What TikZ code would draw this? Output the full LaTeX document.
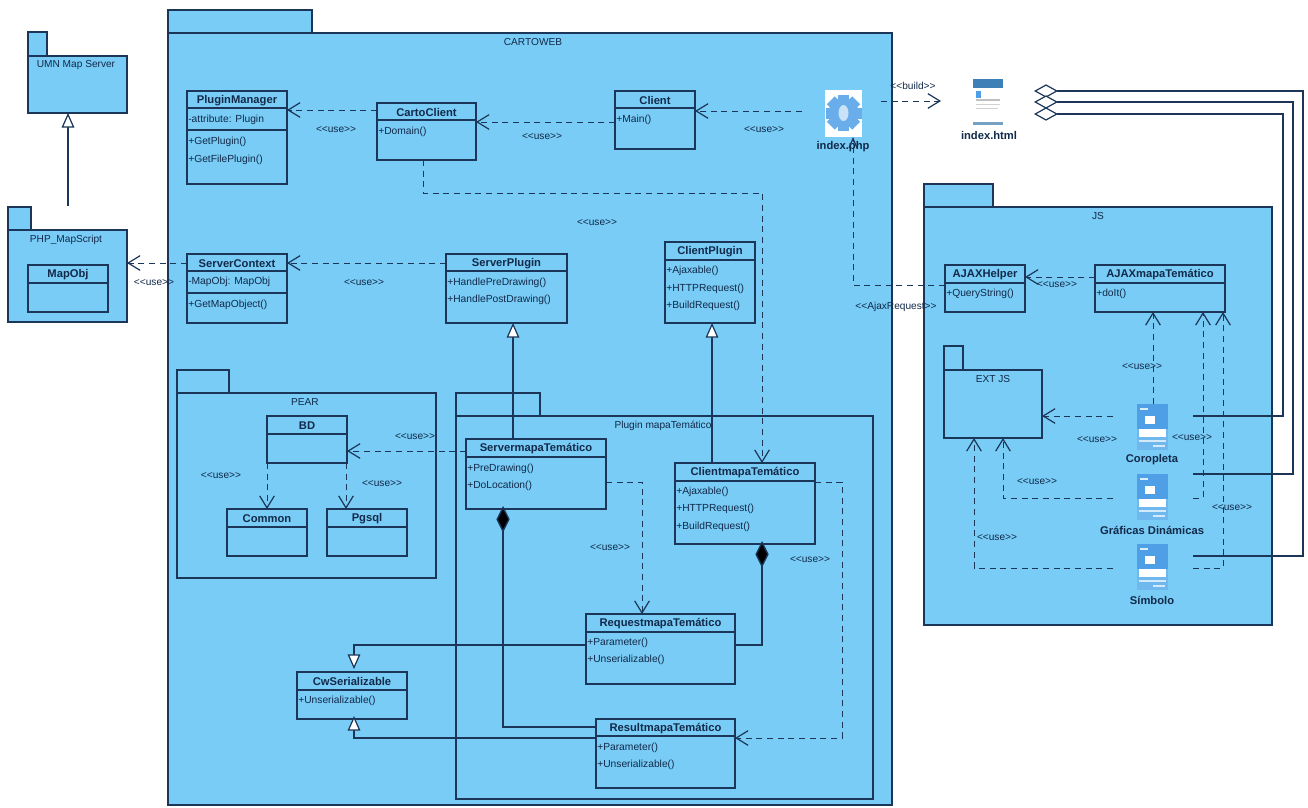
\documentclass[tikz,border=0pt]{standalone}
\usepackage{fontspec}
\setmainfont{Liberation Sans}
\usetikzlibrary{arrows.meta,calc}
\definecolor{pkgblue}{HTML}{78CCF5}
\definecolor{ink}{HTML}{1B3658}
\definecolor{txt}{HTML}{12294A}
\definecolor{iconblue}{HTML}{4F9FE6}
\definecolor{iconlight}{HTML}{6FB8EE}
\tikzset{
  umlbox/.style={draw=ink,line width=1pt,anchor=north west,inner sep=0pt,outer sep=0pt},
  pkgbox/.style={umlbox,fill=pkgblue},
  classtitle/.style={inner sep=0pt,text=txt,font=\fontsize{8.4}{10}\selectfont\bfseries},
  member/.style={anchor=west,inner sep=0pt,text=txt,font=\fontsize{7.7}{9}\selectfont},
  lbl/.style={inner sep=0pt,text=txt,font=\fontsize{7.6}{9}\selectfont},
  iconlbl/.style={inner sep=0pt,text=txt,font=\fontsize{8.4}{10}\selectfont\bfseries},
  iconbox/.style={anchor=north west,inner sep=0pt,outer sep=0pt},
  solidln/.style={draw=ink,line width=1pt},
  dashln/.style={draw=ink,line width=.75pt,dash pattern=on 4.5pt off 3.5pt},
  openhead/.style={-{Straight Barb[length=9pt,width=11pt,line width=.9pt]}},
  genhead/.style={-{Triangle[length=11pt,width=9.5pt,fill=white,line width=.9pt]}},
  comphead/.style={{Diamond[length=20pt,width=10pt,fill=black]}-},
  agghead/.style={{Diamond[length=18pt,width=10pt,fill=white,line width=.9pt]}-},
}
\newcounter{lblc}
\newcommand{\umlclass}[6]{%
  \node[umlbox,minimum width={(#4-#2)*0.75pt},minimum height={(#5-#3)*0.75pt}] (#1) at (#2,#3) {};
  \node[classtitle] (#1T) at ({(#2+#4)/2},{#3+9.5}) {#6};
}
\newcommand{\umldiv}[2]{\draw[solidln] (#1.west |- 0,#2) -- (#1.east |- 0,#2);}
\newcommand{\mbr}[3]{\stepcounter{lblc}\node[member] (m\thelblc) at ($(#1.west |- 0,#2)+(1,0)$) {#3};}
\newcommand{\lab}[3]{\stepcounter{lblc}\node[lbl] (l\thelblc) at (#1,#2) {#3};}
\newcommand{\usetag}[2]{\lab{#1}{#2}{<{}<use>{}>}}
\newcommand{\umlpkg}[7]{% name x1 tabtop tabright bodytop x2 bottom
  \node[pkgbox,minimum width={(#4-#2)*0.75pt},minimum height={(#5-#3)*0.75pt}] (#1Tab) at (#2,#3) {};
  \node[pkgbox,minimum width={(#6-#2)*0.75pt},minimum height={(#7-#5)*0.75pt}] (#1) at (#2,#5) {};
}
\newcommand{\formicon}[2]{% left, top
  \fill[iconlight] (#1,#2) rectangle ++(31,46);
  \fill[iconblue] (#1,#2) rectangle ++(31,25);
  \fill[white] (#1+8,#2+12) rectangle ++(10,8);
  \fill[white] (#1+2,#2+25) rectangle ++(27,8);
  \fill[white,opacity=.8] (#1+3,#2+4) rectangle ++(8,1.5);
  \fill[white,opacity=.7] (#1+2,#2+36) rectangle ++(27,2);
  \fill[white,opacity=.7] (#1+16,#2+41) rectangle ++(12,1.5);
}
\begin{document}
\begin{tikzpicture}[x=0.75pt,y=-0.75pt]
\useasboundingbox (0,0) rectangle (1308,807);
\fill[white] (0,0) rectangle (1308,807);

% packages
\umlpkg{umn}{28}{32}{47}{56}{127}{113}
\lab{76}{65}{UMN Map Server}
\umlpkg{php}{8}{207}{31}{230}{127}{322}
\lab{66}{240}{PHP\_MapScript}
\umlpkg{carto}{168}{10}{312}{33}{892}{805}
\lab{533}{42}{CARTOWEB}
\umlpkg{pear}{177}{370}{229}{393}{436}{578}
\lab{305}{402}{PEAR}
\umlpkg{plug}{456}{393}{540}{416}{873}{799}
\lab{663}{426}{Plugin mapaTemático}
\umlpkg{js}{924}{184}{993}{207}{1272}{625}
\lab{1098}{216}{JS}
\umlpkg{ext}{944}{346}{963}{370}{1042}{438}
\lab{993}{379}{EXT JS}

% classes
\umlclass{mapobj}{28}{265}{108}{312}{MapObj}
\umldiv{mapobj}{283}
\umlclass{pm}{187}{91}{287}{184}{PluginManager}
\umldiv{pm}{108}\umldiv{pm}{130}
\mbr{pm}{120}{-attribute: Plugin}\mbr{pm}{142}{+GetPlugin()}\mbr{pm}{160}{+GetFilePlugin()}
\umlclass{cc}{377}{103}{476}{160}{CartoClient}
\umldiv{cc}{120}
\mbr{cc}{132}{+Domain()}
\umlclass{cl}{615}{91}{695}{149}{Client}
\umldiv{cl}{108}
\mbr{cl}{120}{+Main()}
\umlclass{sc}{187}{254}{287}{323}{ServerContext}
\umldiv{sc}{271}\umldiv{sc}{293}
\mbr{sc}{282}{-MapObj: MapObj}\mbr{sc}{305}{+GetMapObject()}
\umlclass{sp}{446}{254}{567}{323}{ServerPlugin}
\umldiv{sp}{271}
\mbr{sp}{283}{+HandlePreDrawing()}\mbr{sp}{300}{+HandlePostDrawing()}
\umlclass{cp}{665}{242}{755}{323}{ClientPlugin}
\umldiv{cp}{260}
\mbr{cp}{271}{+Ajaxable()}\mbr{cp}{288.5}{+HTTPRequest()}\mbr{cp}{306}{+BuildRequest()}
\umlclass{bd}{267}{416}{347}{463}{BD}
\umldiv{bd}{434}
\umlclass{com}{227}{509}{307}{556}{Common}
\umldiv{com}{527}
\umlclass{pg}{327}{509}{407}{556}{Pgsql}
\umldiv{pg}{527}
\umlclass{smt}{466}{439}{606}{509}{ServermapaTemático}
\umldiv{smt}{457}
\mbr{smt}{469}{+PreDrawing()}\mbr{smt}{486}{+DoLocation()}
\umlclass{cmt}{675}{463}{815}{544}{ClientmapaTemático}
\umldiv{cmt}{481}
\mbr{cmt}{492}{+Ajaxable()}\mbr{cmt}{509}{+HTTPRequest()}\mbr{cmt}{527}{+BuildRequest()}
\umlclass{req}{586}{614}{735}{684}{RequestmapaTemático}
\umldiv{req}{632}
\mbr{req}{643}{+Parameter()}\mbr{req}{660}{+Unserializable()}
\umlclass{res}{596}{719}{735}{788}{ResultmapaTemático}
\umldiv{res}{736}
\mbr{res}{748}{+Parameter()}\mbr{res}{765}{+Unserializable()}
\umlclass{cw}{297}{672}{407}{719}{CwSerializable}
\umldiv{cw}{690}
\mbr{cw}{701}{+Unserializable()}
\umlclass{ah}{945}{265}{1025}{312}{AJAXHelper}
\umldiv{ah}{283}
\mbr{ah}{294}{+QueryString()}
\umlclass{am}{1095}{265}{1225}{312}{AJAXmapaTemático}
\umldiv{am}{283}
\mbr{am}{294}{+doIt()}

% index.php icon
\node[iconbox,minimum width={79*0.75pt},minimum height={47*0.75pt}] (phpicon) at (802,90) {};
\fill[white] (825,90) rectangle (862,137);
\fill[iconblue!85!white] (843.5,113) circle (15);
\foreach \a in {0,45,...,315}{
  \fill[iconblue!85!white,rotate around={\a:(843.5,113)}] (838,95) rectangle (849,104);
}
\fill[white!70!iconblue] (843.5,113) ellipse (5 and 8);
\node[iconlbl] (phplabel) at (843,147) {index.php};

% index.html icon
\node[iconbox,minimum width={93*0.75pt},minimum height={47*0.75pt}] (htmlicon) at (941,78) {};
\fill[white] (973,78) rectangle (1003,125);
\fill[iconblue!80!black] (973,79) rectangle (1003,88);
\fill[iconblue] (976,91) rectangle (981,98);
\fill[gray!50] (976,99) rectangle (1000,100.5);
\fill[gray!35] (976,104) rectangle (1000,105);
\fill[gray!35] (976,108) rectangle (998,109);
\fill[iconlight!60!gray] (973,122) rectangle (1003,125);
\node[iconlbl] (htmllabel) at (989,135) {index.html};

% form icons
\node[iconbox,minimum width={80*0.75pt},minimum height={46*0.75pt}] (coro) at (1113,404) {};
\formicon{1137}{404}
\node[iconlbl] (corolabel) at (1152,460) {Coropleta};
\node[iconbox,minimum width={80*0.75pt},minimum height={46*0.75pt}] (graf) at (1113,474) {};
\formicon{1137}{474}
\node[iconlbl] (graflabel) at (1152,530) {Gráficas Dinámicas};
\node[iconbox,minimum width={80*0.75pt},minimum height={46*0.75pt}] (simb) at (1113,544) {};
\formicon{1137}{544}
\node[iconlbl] (simblabel) at (1152,600) {Símbolo};

% generalisations
\draw[solidln,genhead] (phpTab.north -| 68,0) ++(0,-1) -- (umn.south -| 68,0);
\draw[solidln,genhead] (smt.north -| 513,0) -- (sp.south -| 513,0);
\draw[solidln,genhead] (cmt.north -| 712,0) -- (cp.south -| 712,0);
\draw[solidln,genhead] (req.west |- 0,645) -- (354,645) -- (354,669);
\draw[solidln,genhead] (res.west |- 0,738) -- (354,738) -- (354,716);

% compositions
\draw[solidln,comphead] (503,506) -- (503,727) -- (res.west |- 0,727);
\draw[solidln,comphead] (762,541) -- (762,645) -- (req.east |- 0,645);

% dependencies
\draw[dashln,openhead] (sc.west |- 0,263) -- (php.east |- 0,263);
\draw[dashln,openhead] (cc.west |- 0,110) -- (pm.east |- 0,110);
\draw[dashln,openhead] (cl.west |- 0,122) -- (cc.east |- 0,122);
\draw[dashln,openhead] (phpicon.west |- 0,111) -- (cl.east |- 0,111);
\draw[dashln,openhead] (sp.west |- 0,263) -- (sc.east |- 0,263);
\draw[dashln,openhead] (cc.south -| 423,0) -- (423,193) -- (762,193) -- (cmt.north -| 762,0);
\draw[dashln,openhead] (smt.west |- 0,451) -- (bd.east |- 0,451);
\draw[dashln,openhead] (bd.south -| 267,0) -- (com.north -| 267,0);
\draw[dashln,openhead] (bd.south -| 346,0) -- (pg.north -| 346,0);
\draw[dashln,openhead] (smt.east |- 0,482) -- (642,482) -- (req.north -| 642,0);
\draw[dashln,openhead] (cmt.east |- 0,482) -- (842,482) -- (842,738) -- (res.east |- 0,738);
\draw[dashln,openhead] (phpicon.east |- 0,101) -- (htmlicon.west |- 0,101);
\draw[dashln,-{Straight Barb[length=7pt,width=6pt,line width=.9pt]}] (ah.west |- 0,285) -- (853,285) -- (phpicon.south -| 853,0);
\draw[dashln,openhead] (am.west |- 0,277) -- (ah.east |- 0,277);
\draw[dashln,openhead] (coro.north -| 1153,0) -- (am.south -| 1153,0);
\draw[dashln,openhead] (graf.east |- 0,498) -- (1203,498) -- (am.south -| 1203,0);
\draw[dashln,openhead] (simb.east |- 0,568) -- (1223,568) -- (am.south -| 1223,0);
\draw[dashln,openhead] (coro.west |- 0,416) -- (ext.east |- 0,416);
\draw[dashln,openhead] (graf.west |- 0,498) -- (1003,498) -- (ext.south -| 1003,0);
\draw[dashln,openhead] (simb.west |- 0,568) -- (974,568) -- (ext.south -| 974,0);

% aggregations
\draw[solidln,agghead] (htmlicon.east |- 0,91) -- (1303,91) -- (1303,556) -- (simb.east |- 0,556);
\draw[solidln,agghead] (htmlicon.east |- 0,102) -- (1293,102) -- (1293,474) -- (graf.east |- 0,474);
\draw[solidln,agghead] (htmlicon.east |- 0,114) -- (1283,114) -- (1283,416) -- (coro.east |- 0,416);

% connector labels
\usetag{154}{283}
\usetag{336}{130}
\usetag{542}{137}
\usetag{764}{130}
\usetag{364}{283}
\usetag{597}{223}
\usetag{221}{476}
\usetag{382}{484}
\usetag{415}{437}
\usetag{610}{548}
\usetag{810}{560}
\usetag{1057}{285}
\usetag{1142}{367}
\usetag{1097}{440}
\usetag{1192}{438}
\usetag{1037}{482}
\usetag{1232}{508}
\usetag{997}{538}
\lab{913}{86}{<{}<build>{}>}
\lab{896}{307}{<{}<AjaxRequest>{}>}
\end{tikzpicture}
\end{document}
